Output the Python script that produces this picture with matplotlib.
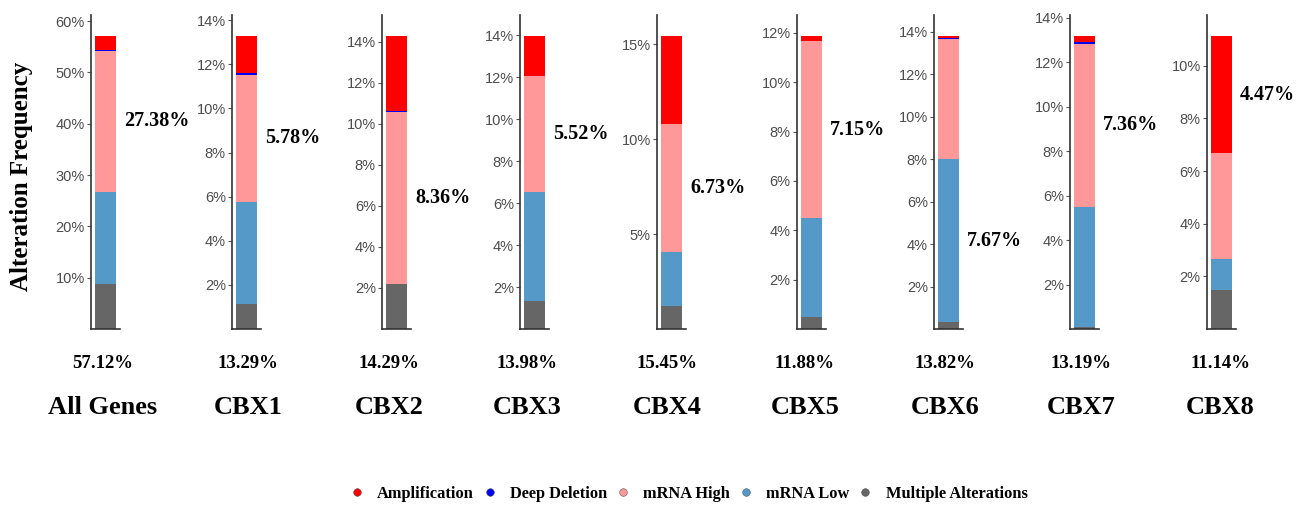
import numpy as np
import matplotlib
matplotlib.use("Agg")
import matplotlib.pyplot as plt
from matplotlib.lines import Line2D
from matplotlib.ticker import FuncFormatter
import matplotlib.transforms as mtrans

genes = ["All Genes", "CBX1", "CBX2", "CBX3", "CBX4", "CBX5", "CBX6", "CBX7", "CBX8"]
totals = [57.12, 13.29, 14.29, 13.98, 15.45, 11.88, 13.82, 13.19, 11.14]

# stacked bottom -> top
multiple = [8.71, 1.15, 2.21, 1.35, 1.20, 0.47, 0.33, 0.10, 1.47]
mrna_low = [18.03, 4.60, 0.00, 5.20, 2.87, 4.03, 7.67, 5.38, 1.20]
mrna_high = [27.38, 5.78, 8.36, 5.52, 6.73, 7.15, 5.65, 7.36, 4.00]
deep_del = [0.15, 0.07, 0.05, 0.00, 0.00, 0.00, 0.05, 0.05, 0.00]
amplif = [2.85, 1.69, 3.67, 1.91, 4.65, 0.23, 0.12, 0.30, 4.47]

tick_step = [10, 2, 2, 2, 5, 2, 2, 2, 2]

series = [multiple, mrna_low, mrna_high, deep_del, amplif]
colors = ["#666666", "#5499c7", "#ff9999", "#0000ff", "#ff0000"]
legend_names = ["Amplification", "Deep Deletion", "mRNA High", "mRNA Low", "Multiple Alterations"]
legend_colors = ["#ff0000", "#0000ff", "#ff9999", "#5499c7", "#666666"]

W, H = 1309, 508
fig = plt.figure(figsize=(W / 100, H / 100), dpi=100)
fig.patch.set_facecolor("white")

serif = "Liberation Serif"
sans = "Liberation Sans"

spine_x = [91, 232, 382, 520, 657, 797, 934, 1070, 1207]
label_x = [103, 248, 389, 527, 667, 805, 945, 1081, 1220]
ax_w, y0, y1 = 29, 329, 15

for i, g in enumerate(genes):
    ax = fig.add_axes([spine_x[i] / W, (H - y0) / H, ax_w / W, (y0 - y1) / H])
    bottom = 0.0
    vals = [s[i] for s in series]
    mids = []
    for v, c in zip(vals, colors):
        if v > 0:
            ax.bar(0, v, bottom=bottom, width=1.0, color=c, linewidth=0)
        mids.append(bottom + v / 2)
        bottom += v
    ax.set_xlim(-0.7, 0.7)
    ylim = totals[i] * 1.071
    ax.set_ylim(0, ylim)
    ax.set_yticks(np.arange(tick_step[i], ylim, tick_step[i]))
    ax.yaxis.set_major_formatter(FuncFormatter(lambda v, p: f"{v:.0f}%"))
    ax.set_xticks([])
    ax.tick_params(axis="y", length=3, width=0.8, color="#555555", labelcolor="#4d4d4d",
                   labelsize=10.5, pad=1.5)
    for lab in ax.get_yticklabels():
        lab.set_fontfamily(sans)
    for s in ["top", "right"]:
        ax.spines[s].set_visible(False)
    for s in ["left", "bottom"]:
        ax.spines[s].set_color("#333333")
        ax.spines[s].set_linewidth(1.2)
    ax.set_facecolor("none")

    # label of the largest segment
    k = int(np.argmax(vals))
    tr = mtrans.blended_transform_factory(ax.transAxes, ax.transData)
    ax.text(33 / ax_w, mids[k], f"{vals[k]:.2f}%", transform=tr, ha="left", va="center",
            fontsize=14.5, fontweight="bold", family=serif, color="black")

    fig.text(label_x[i] / W, 1 - 363 / H, f"{totals[i]:.2f}%", ha="center", va="center",
             fontsize=13.5, fontweight="bold", family=serif)
    fig.text(label_x[i] / W, 1 - 408 / H, g, ha="center", va="center",
             fontsize=19, fontweight="bold", family=serif)

fig.text(22 / W, 1 - 176 / H, "Alteration Frequency", rotation=90, ha="center", va="center",
         fontsize=18, fontweight="bold", family=serif)

handles = [Line2D([], [], marker="o", linestyle="", markersize=5.5, markerfacecolor=c,
                  markeredgecolor="#555555", markeredgewidth=0.4) for c in legend_colors]
fig.legend(handles, legend_names, loc="center", bbox_to_anchor=(688 / W, 1 - 494 / H),
           ncol=5, frameon=False, handlelength=1.0, handletextpad=0.75, columnspacing=0.45,
           prop={"family": serif, "weight": "bold", "size": 11.8})

fig.savefig("out.png", dpi=100)
